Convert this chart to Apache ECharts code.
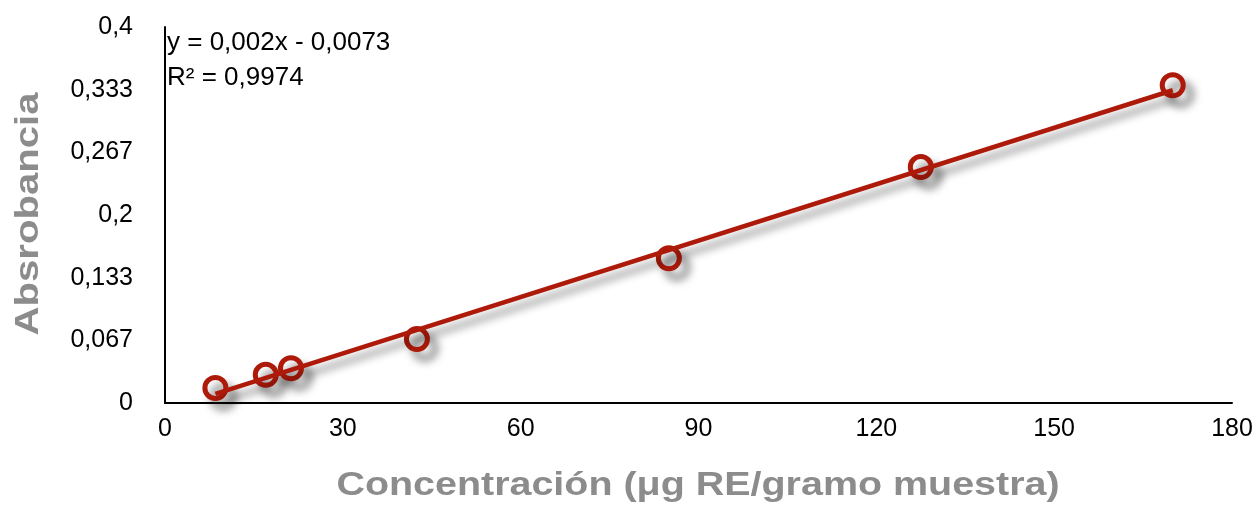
<!DOCTYPE html>
<html>
<head>
<meta charset="utf-8">
<script src="https://cdn.jsdelivr.net/npm/echarts@6/dist/echarts.min.js"></script>
<style>
html,body{margin:0;padding:0;background:#fff;}
#chart{width:1258px;height:506px;}
</style>
</head>
<body>
<div id="chart"></div>
<script>
// Data
const concentracion = [8.5, 17, 21.25, 42.5, 85, 127.5, 170];
const absorbancia = [0.016, 0.030, 0.037, 0.068, 0.154, 0.251, 0.338];
const trendX = [8.5, 170];
const trendY = [0.0097, 0.3327];
const equationLines = ['y = 0,002x - 0,0073', 'R² = 0,9974'];
const xTitle = 'Concentración (\u03BCg RE/gramo muestra)';
const yTitle = 'Absrobancia';

const RED = '#AE1A0A';
const FONT = '"Liberation Sans", Arial, Helvetica, sans-serif';
const TITLE_GREY = '#8c8c8c';

const chart = echarts.init(document.getElementById('chart'), null, {renderer: 'canvas'});

const points = concentracion.map((x, i) => [x, absorbancia[i]]);
const trend = trendX.map((x, i) => [x, trendY[i]]);

const graphics = equationLines.map((t, i) => ({
  type: 'text', x: 167, y: 43 + i * 35,
  style: {text: t, fontFamily: FONT, fontSize: 26, fill: '#000', verticalAlign: 'middle', align: 'left'}
}));
graphics.push({
  type: 'text', x: 698, y: 486, scaleX: 1.16,
  style: {text: xTitle, fontFamily: FONT, fontSize: 34, fontWeight: 'bold', fill: TITLE_GREY, align: 'center', verticalAlign: 'middle'}
});
graphics.push({
  type: 'text', x: 29, y: 214, rotation: Math.PI / 2, scaleX: 1.18,
  style: {text: yTitle, fontFamily: FONT, fontSize: 34, fontWeight: 'bold', fill: TITLE_GREY, align: 'center', verticalAlign: 'middle'}
});

chart.setOption({
  backgroundColor: '#fff',
  animation: false,
  grid: {left: 165, right: 26, top: 27, bottom: 103, containLabel: false, outerBoundsMode: 'none'},
  xAxis: {
    type: 'value', min: 0, max: 180, interval: 30,
    axisLine: {show: true, onZero: false, lineStyle: {color: '#000', width: 2}},
    axisTick: {show: false},
    splitLine: {show: false},
    axisLabel: {fontFamily: FONT, fontSize: 25, color: '#000', margin: 14}
  },
  yAxis: {
    type: 'value', min: 0, max: 0.4, interval: 0.4 / 6,
    axisLine: {show: true, onZero: false, lineStyle: {color: '#000', width: 2}},
    axisTick: {show: false},
    splitLine: {show: false},
    axisLabel: {
      fontFamily: FONT, fontSize: 25, color: '#000', margin: 32,
      formatter: v => String(parseFloat(v.toFixed(3))).replace('.', ',')
    }
  },
  graphic: graphics,
  series: [
    {
      type: 'line', data: trend, symbol: 'none', z: 3,
      lineStyle: {color: RED, width: 4.5, shadowColor: 'rgba(0,0,0,0.45)', shadowBlur: 8, shadowOffsetX: 4, shadowOffsetY: 8}
    },
    {
      type: 'scatter', data: points, symbol: 'circle', symbolSize: 21, z: 2,
      itemStyle: {color: 'rgba(255,255,255,0)', borderColor: RED, borderWidth: 5, opacity: 1,
        shadowColor: 'rgba(0,0,0,0.55)', shadowBlur: 9, shadowOffsetX: 8, shadowOffsetY: 9}
    }
  ]
});
</script>
</body>
</html>
